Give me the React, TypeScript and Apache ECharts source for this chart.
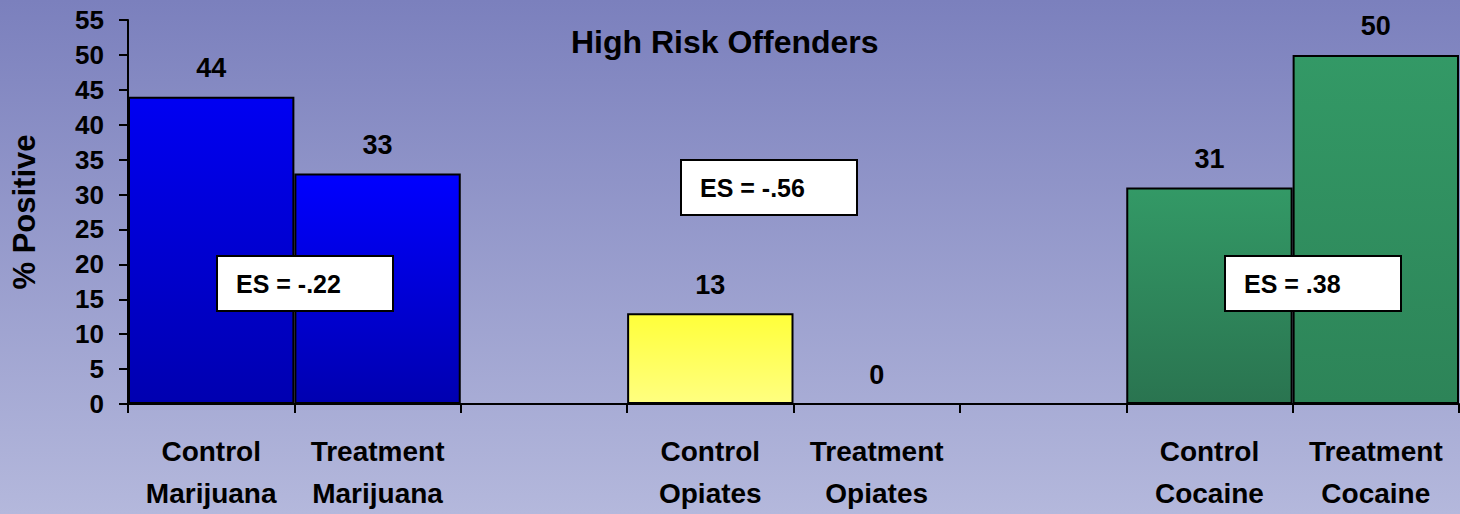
import React, { useEffect, useRef } from "react";
import * as echarts from "echarts";

const categories = [
  "Control\nMarijuana",
  "Treatment\nMarijuana",
  "",
  "Control\nOpiates",
  "Treatment\nOpiates",
  "",
  "Control\nCocaine",
  "Treatment\nCocaine",
];
const values: (number | null)[] = [44, 33, null, 13, 0, null, 31, 50];
const topColors = ["#0000f2", "#0000ff", "", "#ffff3a", "#ffff3a", "", "#339966", "#339966"];
const bottomColors = ["#0000b0", "#0000b0", "", "#ffff80", "#ffff80", "", "#2a7450", "#2d8458"];
const esLabels = ["ES = -.22", "ES = -.56", "ES = .38"];

const FONT = "'Liberation Sans', Arial, sans-serif";

export default function App() {
  const ref = useRef<HTMLDivElement>(null);
  useEffect(() => {
    if (!ref.current) return;
    const chart = echarts.init(ref.current, null, { renderer: "svg" });
    const data = values.map((v, i) =>
      v === null
        ? null
        : {
            value: v,
            itemStyle: {
              color: new echarts.graphic.LinearGradient(0, 0, 0, 1, [
                { offset: 0, color: topColors[i] },
                { offset: 1, color: bottomColors[i] },
              ]),
            },
          }
    );
    const box = (x: number, y: number, text: string) => ({
      type: "group",
      x,
      y,
      z: 100,
      children: [
        {
          type: "rect",
          z: 100,
          shape: { x: 0, y: 0, width: 176, height: 55 },
          style: { fill: "#ffffff", stroke: "#000000", lineWidth: 2 },
        },
        {
          type: "text",
          z: 101,
          x: 19,
          y: 28,
          style: {
            text,
            fill: "#000",
            font: `bold 25px ${FONT}`,
            verticalAlign: "middle",
          },
        },
      ],
    });
    chart.setOption({
      animation: false,
      backgroundColor: new echarts.graphic.LinearGradient(0, 0, 0, 1, [
        { offset: 0, color: "#7b80bd" },
        { offset: 1, color: "#b4b8dc" },
      ]),
      title: {
        text: "High Risk Offenders",
        left: 566,
        top: 21,
        textStyle: { fontFamily: FONT, fontWeight: "bold", fontSize: 32, color: "#000" },
      },
      grid: { left: 128, right: 1, top: 20, bottom: 110, containLabel: false, outerBoundsMode: "none" },
      xAxis: {
        type: "category",
        data: categories,
        axisLine: { lineStyle: { color: "#000", width: 2 } },
        axisTick: { show: true, interval: 0, length: 9, lineStyle: { color: "#000", width: 2 } },
        axisLabel: {
          interval: 0,
          margin: 26,
          color: "#000",
          fontFamily: FONT,
          fontWeight: "bold",
          fontSize: 28,
          lineHeight: 42,
        },
      },
      yAxis: {
        type: "value",
        min: 0,
        max: 55,
        interval: 5,
        name: "% Positive",
        nameLocation: "middle",
        nameGap: 88,
        nameTextStyle: { fontFamily: FONT, fontWeight: "bold", fontSize: 31, color: "#000" },
        splitLine: { show: false },
        axisLine: { show: true, lineStyle: { color: "#000", width: 2 } },
        axisTick: { show: true, length: 9, lineStyle: { color: "#000", width: 2 } },
        axisLabel: {
          margin: 24,
          color: "#000",
          fontFamily: FONT,
          fontWeight: "bold",
          fontSize: 26,
        },
      },
      series: [
        {
          type: "bar",
          data,
          barCategoryGap: "0%",
          itemStyle: { borderColor: "#000", borderWidth: 2 },
          label: {
            show: true,
            position: "top",
            distance: 15,
            color: "#000",
            fontFamily: FONT,
            fontWeight: "bold",
            fontSize: 27,
          },
        },
      ],
      graphic: [box(217, 256, esLabels[0]), box(681, 160, esLabels[1]), box(1225, 256, esLabels[2])],
    });
    return () => chart.dispose();
  }, []);
  return (
    <div
      ref={ref}
      style={{ position: "fixed", left: 0, top: 0, width: 1460, height: 514 }}
    />
  );
}
